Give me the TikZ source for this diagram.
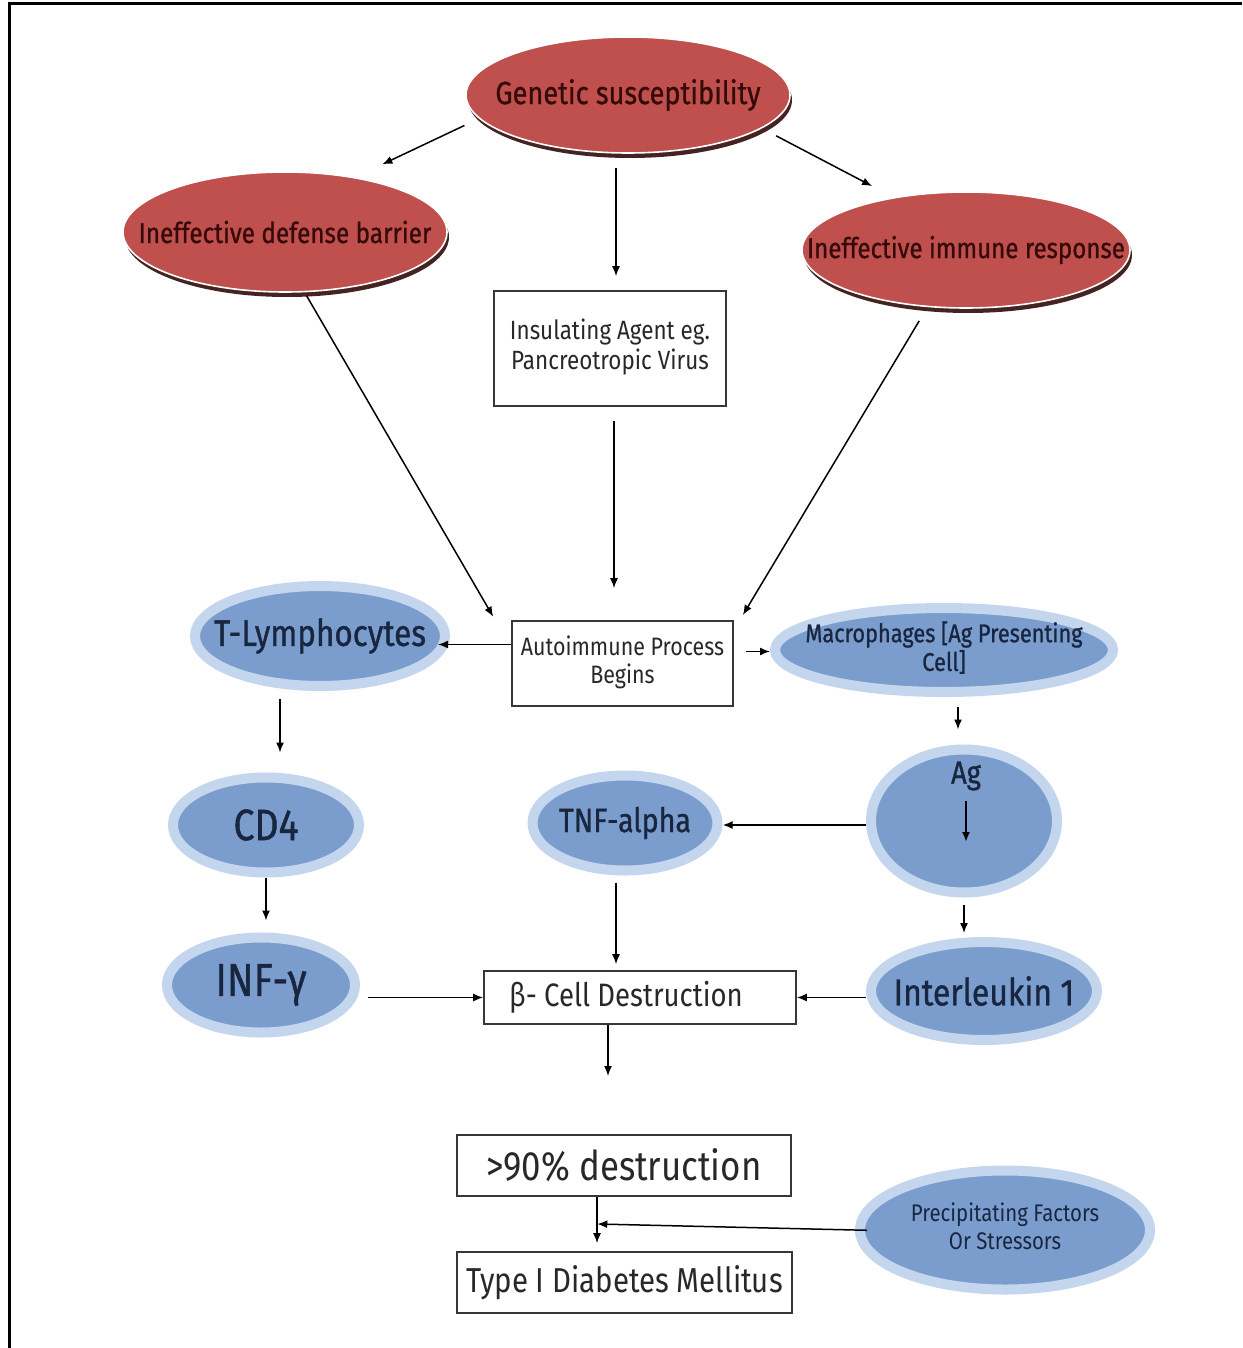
\documentclass[tikz,border=0pt]{standalone}
\usepackage{fontspec}
\setmainfont{Fira Sans}[FakeStretch=0.85]
\newfontfamily\heavyfont{Fira Sans}[FakeStretch=0.85,FakeBold=0.9]
\usetikzlibrary{shapes.geometric,arrows.meta,shadows,calc}
\definecolor{redfill}{RGB}{192,80,77}
\definecolor{redshadow}{RGB}{70,35,35}
\definecolor{redtext}{RGB}{55,10,10}
\definecolor{bluefill}{RGB}{122,157,206}
\definecolor{bluering}{RGB}{196,214,238}
\definecolor{bluetext}{RGB}{25,38,64}
\definecolor{boxline}{RGB}{55,55,55}
\definecolor{boxtext}{RGB}{40,40,40}
\newcommand\ctext[1]{\makebox[0pt]{#1}}
\newcommand\ctwo[2]{\makebox[0pt]{\begin{tabular}{@{}c@{}}#1\\#2\end{tabular}}}
\tikzset{
  redell/.style={ellipse, fill=redfill, draw=white, line width=0.8pt, inner sep=0pt,
    general shadow={fill=redshadow, shadow xshift=1pt, shadow yshift=-2.5pt}, text=redtext},
  blueell/.style={ellipse, fill=bluefill, draw=bluering, line width=5pt, inner sep=0pt, text=bluetext},
  box/.style={rectangle, draw=boxline, line width=0.8pt, inner sep=0pt, fill=white, text=boxtext},
  arr/.style={draw=black, line width=0.75pt, -{Latex[length=5pt,width=4pt]}},
}
\begin{document}
\begin{tikzpicture}[x=0.5pt,y=-0.5pt]
\useasboundingbox (0,0) rectangle (1242,1348);
\fill[white] (0,0) rectangle (1242,1348);
\draw[line width=1.5pt] (9,1348) -- (9,4) -- (1242,4);

% red ellipses
\node[redell, minimum width=162pt, minimum height=58pt, font=\heavyfont\fontsize{16}{18}\selectfont] (gen) at (628,95) {\ctext{Genetic susceptibility}};
\node[redell, minimum width=162pt, minimum height=60pt, font=\heavyfont\fontsize{14.3}{16}\selectfont] (def) at (285,232) {\ctext{Ineffective defense barrier}};
\node[redell, minimum width=164pt, minimum height=58pt, font=\heavyfont\fontsize{14.2}{16}\selectfont] (imm) at (966,250) {\ctext{Ineffective immune response}};

% boxes
\node[box, minimum width=116pt, minimum height=57.5pt, font=\fontsize{13.2}{14.2}\selectfont] (ins) at (610,348.5) {\ctwo{Insulating Agent eg.}{Pancreotropic Virus}};
\node[box, minimum width=110.5pt, minimum height=42.5pt, font=\fontsize{12.6}{14}\selectfont] (auto) at (622.5,663.5) {\ctwo{Autoimmune Process}{Begins}};
\node[box, minimum width=156pt, minimum height=26.5pt, font=\fontsize{16.2}{18}\selectfont] (beta) at (640,997.5) {\ctext{\hspace*{-14pt}β- Cell Destruction}};
\node[box, minimum width=167pt, minimum height=30.5pt, font=\fontsize{20.5}{22}\selectfont] (d90) at (624,1165.5) {\ctext{>90\% destruction}};
\node[box, minimum width=167.5pt, minimum height=30.5pt, font=\fontsize{17.3}{19}\selectfont] (t1dm) at (624.5,1282.5) {\ctext{Type I Diabetes Mellitus}};

% blue ellipses
\node[blueell, minimum width=125pt, minimum height=50pt, font=\heavyfont\fontsize{18.5}{20}\selectfont] (tly) at (320,636) {\ctext{T-Lymphocytes}};
\node[blueell, minimum width=169pt, minimum height=42pt, font=\heavyfont\fontsize{12.8}{13}\selectfont] (mac) at (944,650) {\raisebox{-3pt}{\ctwo{Macrophages [Ag Presenting}{Cell]}}};
\node[blueell, minimum width=93pt, minimum height=47.5pt, font=\heavyfont\fontsize{22}{24}\selectfont] (cd4) at (266,825) {\ctext{CD4}};
\node[blueell, minimum width=92.5pt, minimum height=47.5pt, font=\heavyfont\fontsize{16.8}{18}\selectfont] (tnf) at (625,823) {\ctext{TNF-alpha}};
\node[blueell, minimum width=93pt, minimum height=71.5pt] (ag) at (964,821) {};
\node[text=bluetext, inner sep=1pt, font=\heavyfont\fontsize{16}{18}\selectfont] (agt) at (966,776) {Ag};
\node[blueell, minimum width=94pt, minimum height=47.5pt, font=\heavyfont\fontsize{23}{25}\selectfont] (inf) at (261,985) {\ctext{INF-γ}};
\node[blueell, minimum width=113pt, minimum height=49pt, font=\heavyfont\fontsize{18.8}{20}\selectfont] (il) at (984,991) {\ctext{Interleukin 1}};
\node[blueell, minimum width=145pt, minimum height=59.5pt, font=\fontsize{12}{14}\selectfont] (prec) at (1005,1230) {\ctwo{Precipitating Factors}{Or Stressors}};

\coordinate (bend) at (608,1076);
\coordinate (mid) at ($(d90.south)!0.5!(t1dm.north)+(-27,0)$);

% connectors
\draw[arr, shorten <=8pt, shorten >=15pt] (gen.189) -- (def.38);
\draw[arr, shorten <=8pt, shorten >=12pt] (gen.346) -- (imm.144);
\draw[arr, shorten <=7pt, shorten >=7pt] ([xshift=3pt]ins.north |- gen.south) -- ([xshift=3pt]ins.north);
\draw[arr, shorten <=2pt, shorten >=2pt] (def.288) -- ([xshift=-8pt]auto.north west);
\draw[arr, shorten <=7pt, shorten >=16pt] ([xshift=2pt]ins.south) -- ([xshift=2pt]ins.south |- auto.north);
\draw[arr, shorten <=8pt, shorten >=3pt] (imm.236) -- ([xshift=3pt]auto.north east);
\draw[arr, shorten >=-6pt] ([yshift=9.5pt]auto.west) -- ([yshift=9.5pt]auto.west -| tly.east);
\draw[arr, shorten <=6pt] ([yshift=6pt]auto.east) -- ([yshift=6pt]auto.east -| mac.west);
\draw[arr, shorten <=4pt, shorten >=10pt] ([xshift=7pt]cd4.north |- tly.south) -- ([xshift=7pt]cd4.north);
\draw[arr, shorten >=6pt] (cd4.south) -- (cd4.south |- inf.north);
\draw[arr, shorten <=5pt, shorten >=7.5pt] ([xshift=7pt]mac.south) -- ([xshift=7pt]mac.south |- ag.north);
\draw[arr, line width=1pt] ([yshift=-4pt]agt.south) -- ([yshift=-10.5pt]ag.center -| agt.south);
\draw[arr, line width=1pt] ([yshift=-2pt]ag.west) -- ([yshift=-2pt]ag.west -| tnf.east);
\draw[arr, shorten <=3.5pt, shorten >=2pt] (ag.south) -- (ag.south |- il.north);
\draw[arr, shorten <=3.5pt, shorten >=3pt] ([xshift=-4.5pt]tnf.south) -- ([xshift=-4.5pt]tnf.south |- beta.north);
\draw[arr, shorten <=4pt] (beta.west -| inf.east) -- (beta.west);
\draw[arr] (beta.east -| il.west) -- (beta.east);
\draw[arr] (beta.south -| bend) -- (bend);
\draw[arr, shorten >=4pt] ([xshift=-13.5pt]d90.south) -- ([xshift=-13.5pt]d90.south |- t1dm.north);
\draw[arr, shorten <=-6pt] (prec.west) -- (mid);
\end{tikzpicture}
\end{document}
